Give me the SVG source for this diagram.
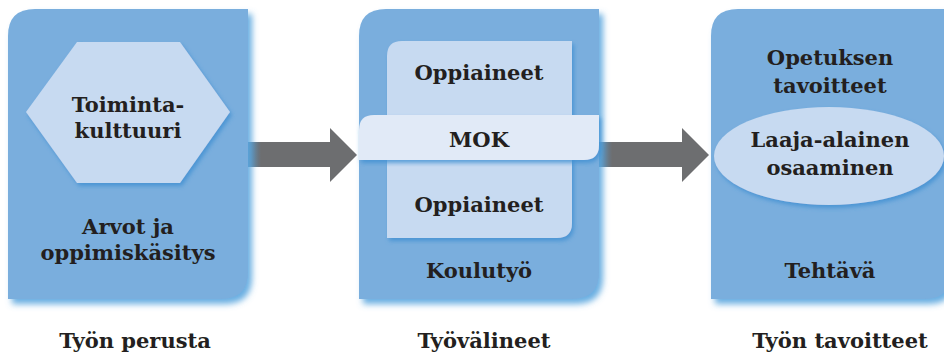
<svg xmlns="http://www.w3.org/2000/svg" width="944" height="354" viewBox="0 0 944 354">
<style>
.box{fill:#7aaedd}
.inner{fill:#c7daf1}
.band{fill:#e1eaf7}
.arrow{fill:#6d6e70}
text{font-family:"DejaVu Serif","Liberation Serif",serif;font-weight:bold;font-size:21px;fill:#231f20;text-anchor:middle}
</style>
<defs>
<filter id="sh" x="-10%" y="-10%" width="125%" height="125%">
<feDropShadow dx="4" dy="5" stdDeviation="3" flood-color="#5aa6de" flood-opacity="0.9"/>
</filter>
<filter id="sh2" x="-10%" y="-10%" width="125%" height="125%">
<feDropShadow dx="2" dy="3" stdDeviation="2" flood-color="#3d8fd2" flood-opacity="0.8"/>
</filter>
<linearGradient id="shaft" x1="0" y1="0" x2="1" y2="0">
<stop offset="0" stop-color="#5e8fb3"/>
<stop offset="0.12" stop-color="#6d6e70"/>
<stop offset="1" stop-color="#6d6e70"/>
</linearGradient>
</defs>

<g id="connectors">
<path class="arrow" d="M248 142 H330 V128 L357 155 L330 182 V167 H248 Z" fill="url(#shaft)" style="fill:url(#shaft)"/>
<path class="arrow" d="M599 142 H682 V128 L709 155 L682 182 V167 H599 Z" style="fill:url(#shaft)"/>
</g>

<g id="node-perusta">
<path class="box" filter="url(#sh)" d="M8 299 V36 Q8 9 35 9 H248 V272 Q248 299 221 299 Z"/>
<polygon class="inner" filter="url(#sh2)" points="26,112 77,42 180,42 230,112 180,183 77,183"/>
<text x="128" y="112">Toiminta-</text>
<text x="128" y="138">kulttuuri</text>
<text x="128" y="234">Arvot ja</text>
<text x="128" y="260">oppimiskäsitys</text>
</g>

<g id="node-valineet">
<path class="box" filter="url(#sh)" d="M359 299 V36 Q359 9 386 9 H599 V272 Q599 299 572 299 Z"/>
<path class="inner" filter="url(#sh2)" d="M387 238 V56 Q387 41 402 41 H572 V223 Q572 238 557 238 Z"/>
<path class="band" filter="url(#sh2)" d="M359 160 V130 Q359 115 374 115 H599 V145 Q599 160 584 160 Z"/>
<text x="479" y="80">Oppiaineet</text>
<text x="479" y="147">MOK</text>
<text x="479" y="212">Oppiaineet</text>
<text x="479" y="278">Koulutyö</text>
</g>

<g id="node-tavoitteet">
<path class="box" filter="url(#sh)" d="M711 299 V36 Q711 9 738 9 H951 V272 Q951 299 924 299 Z"/>
<ellipse class="inner" filter="url(#sh2)" cx="829" cy="156" rx="115" ry="49"/>
<text x="830" y="65">Opetuksen</text>
<text x="830" y="93">tavoitteet</text>
<text x="830" y="147">Laaja-alainen</text>
<text x="830" y="175">osaaminen</text>
<text x="830" y="278">Tehtävä</text>
</g>

<g id="labels">
<text x="135" y="348">Työn perusta</text>
<text x="484" y="348">Työvälineet</text>
<text x="840" y="348">Työn tavoitteet</text>
</g>
</svg>
